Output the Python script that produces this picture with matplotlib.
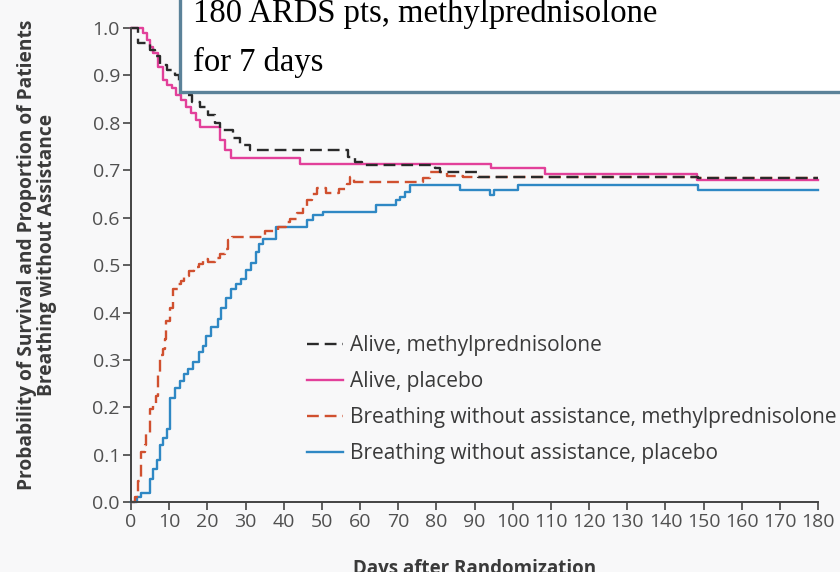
import matplotlib
matplotlib.use("Agg")
import matplotlib.pyplot as plt
from matplotlib.patches import Rectangle

# dados (dias, proporcao)
alive_mp_days = [0, 1.9, 5.0, 6.3, 7.6, 9.3, 11.5, 12.6, 13.7, 15.9,
                 18.0, 20.2, 22.0, 23.3, 26.6, 28.5, 31.2, 56.8, 58.6, 60.4,
                 79.5, 80.9, 90.8, 148.5, 180]
alive_mp_vals = [1.0, 0.968, 0.954, 0.94, 0.922, 0.911, 0.901, 0.88, 0.859, 0.844,
                 0.833, 0.816, 0.80, 0.785, 0.768, 0.753, 0.742, 0.728, 0.718, 0.711,
                 0.704, 0.696, 0.686, 0.683, 0.683]

alive_pl_days = [0, 3.2, 4.1, 5.0, 5.8, 7.1, 8.4, 9.5, 10.6, 11.9,
                 13.2, 14.5, 15.8, 17.0, 18.0, 23.3, 24.6, 26.3, 44.2, 94.2,
                 108.4, 148.3, 180]
alive_pl_vals = [1.0, 0.99, 0.975, 0.96, 0.947, 0.918, 0.89, 0.88, 0.873, 0.859,
                 0.848, 0.833, 0.82, 0.805, 0.791, 0.764, 0.742, 0.725, 0.714, 0.704,
                 0.693, 0.680, 0.680]

breath_mp_days = [0, 1.0, 1.8, 2.7, 3.6, 4.0, 4.9, 5.7, 6.6, 7.1,
                  7.5, 8.4, 8.8, 9.2, 10.1, 11.0, 12.3, 13.2, 14.0, 15.3,
                  16.6, 17.9, 18.8, 20.1, 21.9, 23.2, 24.5, 25.4, 26.4, 35.0,
                  38.5, 40.5, 41.6, 43.4, 45.0, 46.0, 47.4, 48.6, 51.2, 54.5,
                  56.5, 57.4, 58.3, 76.4, 78.3, 82.7, 87.0, 148.5, 180]
breath_mp_vals = [0.0, 0.01, 0.045, 0.106, 0.12, 0.145, 0.197, 0.205, 0.225, 0.27,
                  0.31, 0.323, 0.345, 0.383, 0.41, 0.45, 0.46, 0.467, 0.478, 0.488,
                  0.495, 0.503, 0.513, 0.506, 0.516, 0.523, 0.533, 0.553, 0.56, 0.572,
                  0.58, 0.59, 0.597, 0.61, 0.622, 0.637, 0.651, 0.662, 0.652, 0.66,
                  0.672, 0.686, 0.675, 0.684, 0.696, 0.688, 0.686, 0.683, 0.683]

breath_pl_days = [0, 1.5, 2.5, 4.9, 5.8, 6.7, 7.6, 8.5, 9.5, 10.1,
                  11.4, 12.7, 14.0, 14.9, 16.2, 17.9, 18.8, 19.7, 21.0, 22.7,
                  23.6, 24.9, 26.2, 27.5, 28.8, 30.1, 31.4, 32.7, 33.5, 34.5,
                  38.0, 46.0, 47.7, 50.3, 64.3, 69.5, 70.4, 71.7, 73.0, 86.1,
                  94.0, 95.0, 101.5, 148.5, 180]
breath_pl_vals = [0.0, 0.01, 0.02, 0.05, 0.07, 0.09, 0.12, 0.135, 0.155, 0.22,
                  0.24, 0.255, 0.27, 0.28, 0.295, 0.316, 0.33, 0.35, 0.37, 0.386,
                  0.41, 0.43, 0.45, 0.46, 0.47, 0.49, 0.505, 0.527, 0.545, 0.555,
                  0.58, 0.595, 0.605, 0.612, 0.627, 0.637, 0.644, 0.655, 0.669, 0.658,
                  0.648, 0.658, 0.669, 0.658, 0.658]

x_ticks = list(range(0, 181, 10))
y_ticks = [i / 10 for i in range(11)]

plt.rcParams['font.family'] = ['Open Sans', 'DejaVu Sans']

bg = '#f8f8f9'
fig = plt.figure(figsize=(8.4, 5.72), dpi=100, facecolor=bg)
ax = fig.add_axes([0.156, 0.122, 0.818, 0.829])
ax.set_facecolor(bg)

dash = (0, (5, 2.5))
l4, = ax.step(breath_pl_days, breath_pl_vals, where='post', color='#2f88c4', lw=1.7, clip_on=False)
l3, = ax.step(breath_mp_days, breath_mp_vals, where='post', color='#d0502f', lw=1.7, ls=dash, clip_on=False)
l2, = ax.step(alive_pl_days, alive_pl_vals, where='post', color='#e2409a', lw=1.7, clip_on=False)
l1, = ax.step(alive_mp_days, alive_mp_vals, where='post', color='#2a2a2a', lw=1.7, ls=dash, clip_on=False)

ax.set_xlim(0, 180)
ax.set_ylim(0, 1.0)
ax.set_xticks(x_ticks)
ax.set_yticks(y_ticks)
ax.set_yticklabels([f'{v:.1f}' for v in y_ticks])
for s in ['top', 'right']:
    ax.spines[s].set_visible(False)
for s in ['left', 'bottom']:
    ax.spines[s].set_color('#444444')
    ax.spines[s].set_linewidth(1.4)
ax.tick_params(direction='out', length=6, width=1.2, color='#444444',
               labelsize=14, labelcolor='#505050', pad=2)

ax.set_ylabel('Probability of Survival and Proportion of Patients\nBreathing without Assistance',
              fontsize=13.8, fontweight='bold', color='#3a3a3a', linespacing=1.0)
ax.yaxis.set_label_coords(-0.1077, 0.521)
ax.set_xlabel('Days after Randomization', fontsize=13.5, fontweight='bold',
              color='#3a3a3a', labelpad=20)

fig.legend([l1, l2, l3, l4],
           ['Alive, methylprednisolone', 'Alive, placebo',
            'Breathing without assistance, methylprednisolone',
            'Breathing without assistance, placebo'],
           loc='upper left', bbox_to_anchor=(0.365, 0.414), frameon=False,
           fontsize=15, labelcolor='#3a3a3a', handlelength=1.75,
           handletextpad=0.33, labelspacing=0.72, borderpad=0, borderaxespad=0)

# caixa de texto sobreposta
box = Rectangle((180 / 840, 1 - 92 / 572), 0.8, 0.2, transform=fig.transFigure,
                facecolor='white', edgecolor='#5b8299', lw=2.4, zorder=5)
fig.add_artist(box)
fig.text(193 / 840, 1 - 22 / 572, '180 ARDS pts, methylprednisolone',
         family='Liberation Serif', fontsize=23.5, color='black', zorder=6)
fig.text(193 / 840, 1 - 71 / 572, 'for 7 days',
         family='Liberation Serif', fontsize=23.5, color='black', zorder=6)

fig.savefig('out.png', dpi=100, facecolor=bg)
